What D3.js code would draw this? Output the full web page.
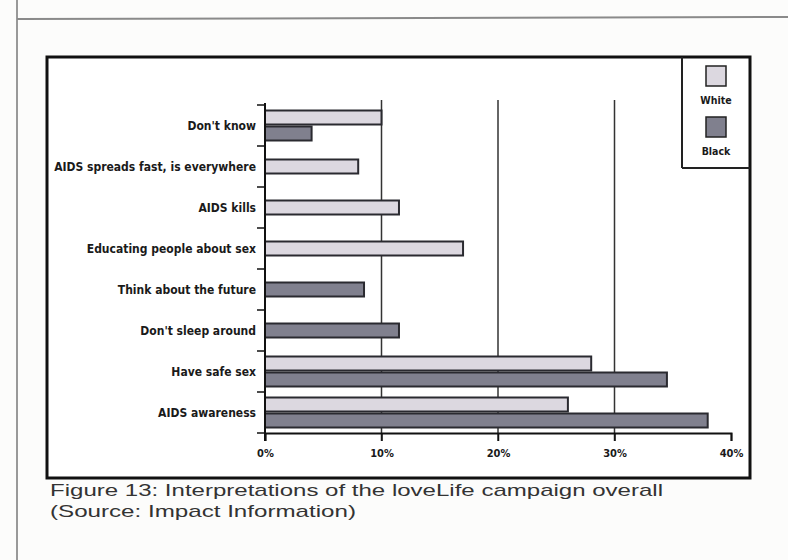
<!DOCTYPE html>
<html>
<head>
<meta charset="utf-8">
<script src="https://cdn.jsdelivr.net/npm/d3@7"></script>
<style>
  html, body { margin: 0; padding: 0; background: #fcfcfb; }
  svg { display: block; }
</style>
</head>
<body>
<div id="chart"></div>
<script>
// categories top -> bottom, values in percent (null = no bar)
const categories = ["Don't know", "AIDS spreads fast, is everywhere", "AIDS kills",
  "Educating people about sex", "Think about the future", "Don't sleep around",
  "Have safe sex", "AIDS awareness"];
const seriesNames = ["White", "Black"];
const whiteValues = [10, 8, 11.5, 17, null, null, 28, 26];
const blackValues = [4, null, null, null, 8.5, 11.5, 34.5, 38];
const xTicks = [0, 10, 20, 30, 40];
const caption = ["Figure 13: Interpretations of the loveLife campaign overall",
  "(Source: Impact Information)"];

const width = 788, height = 560;
const colors = { White: "#dcd8e0", Black: "#80808e" };
const labelFont = "'DejaVu Sans Condensed', 'Liberation Sans Narrow', sans-serif";

const svg = d3.select("#chart").append("svg")
  .attr("width", width).attr("height", height);

// page rules from the scanned page
svg.append("line").attr("x1", 17).attr("x2", 17).attr("y1", 0).attr("y2", height)
  .attr("stroke", "#999").attr("stroke-width", 2);
svg.append("line").attr("x1", 17).attr("x2", width).attr("y1", 19).attr("y2", 17)
  .attr("stroke", "#8a8a8a").attr("stroke-width", 2);

// chart frame
svg.append("rect").attr("x", 47).attr("y", 57).attr("width", 703).attr("height", 421)
  .attr("fill", "#fff").attr("stroke", "#111").attr("stroke-width", 3);

const x = d3.scaleLinear().domain([0, 40]).range([265, 731]);
const y = d3.scaleBand().domain(categories).range([105, 433]);

// gridlines
svg.append("g").selectAll("line")
  .data(xTicks.filter(t => t > 0 && t < 40))
  .join("line")
  .attr("x1", d => x(d)).attr("x2", d => x(d))
  .attr("y1", 100).attr("y2", 441)
  .attr("stroke", "#333").attr("stroke-width", 1.5);

// bars
const rows = categories.map((c, i) => ({
  cat: c,
  bars: [
    { s: "White", v: whiteValues[i] },
    { s: "Black", v: blackValues[i] }
  ].filter(b => b.v != null)
}));
const barH = 14, gap = 2;
const bars = [];
rows.forEach(r => {
  const total = r.bars.length * barH + (r.bars.length - 1) * gap;
  const y0 = y(r.cat) + y.bandwidth() / 2 - total / 2;
  r.bars.forEach((b, j) => bars.push({ ...b, y: y0 + j * (barH + gap) }));
});
svg.append("g").selectAll("rect")
  .data(bars)
  .join("rect")
  .attr("x", x(0))
  .attr("y", d => d.y)
  .attr("width", d => x(d.v) - x(0))
  .attr("height", barH)
  .attr("fill", d => colors[d.s])
  .attr("stroke", "#2a2a30")
  .attr("stroke-width", 2);

// y axis: boundary ticks on the left
const yAxisG = svg.append("g");
yAxisG.append("line").attr("x1", x(0)).attr("x2", x(0))
  .attr("y1", 103).attr("y2", 441).attr("stroke", "#111").attr("stroke-width", 2);
const bounds = categories.map(c => y(c)).concat([y.range()[1]]);
yAxisG.selectAll("line.tk").data(bounds).join("line").attr("class", "tk")
  .attr("x1", x(0) - 8).attr("x2", x(0))
  .attr("y1", d => d).attr("y2", d => d)
  .attr("stroke", "#111").attr("stroke-width", 1.5);
yAxisG.selectAll("text").data(categories).join("text")
  .attr("x", x(0) - 9)
  .attr("y", d => y(d) + y.bandwidth() / 2)
  .attr("dy", "0.35em")
  .attr("text-anchor", "end")
  .attr("font-family", labelFont)
  .attr("font-weight", "bold")
  .attr("font-size", 12)
  .attr("fill", "#1a1a1a")
  .text(d => d);

// x axis
const xAxis = d3.axisBottom(x).tickValues(xTicks).tickSize(8)
  .tickFormat(d => d + "%");
const xg = svg.append("g").attr("transform", "translate(0,433)").call(xAxis);
xg.select(".domain").attr("stroke", "#111").attr("stroke-width", 2);
xg.selectAll(".tick line").attr("stroke", "#111").attr("stroke-width", 1.5);
xg.selectAll(".tick text")
  .attr("y", 16)
  .attr("font-family", labelFont)
  .attr("font-weight", "bold")
  .attr("font-size", 11)
  .attr("fill", "#1a1a1a");

// legend box
const lg = svg.append("g");
lg.append("line").attr("x1", 682).attr("x2", 682).attr("y1", 57).attr("y2", 168)
  .attr("stroke", "#222").attr("stroke-width", 2);
lg.append("line").attr("x1", 682).attr("x2", 750).attr("y1", 168).attr("y2", 168)
  .attr("stroke", "#222").attr("stroke-width", 2);
const items = lg.selectAll("g").data(seriesNames).join("g")
  .attr("transform", (d, i) => `translate(716,${66 + i * 51})`);
items.append("rect").attr("x", -10).attr("y", 0).attr("width", 20).attr("height", 20)
  .attr("fill", d => colors[d]).attr("stroke", "#222").attr("stroke-width", 1.5);
items.append("text").attr("y", 38).attr("text-anchor", "middle")
  .attr("font-family", labelFont).attr("font-weight", "bold")
  .attr("font-size", 10.5).attr("fill", "#1a1a1a")
  .text(d => d);

// caption
svg.append("g").selectAll("text").data(caption).join("text")
  .attr("x", 50)
  .attr("y", (d, i) => 496 + i * 21)
  .attr("font-family", "'Liberation Sans', Arial, sans-serif")
  .attr("font-size", 17)
  .attr("fill", "#333")
  .attr("textLength", (d, i) => i === 0 ? 613 : 306)
  .attr("lengthAdjust", "spacingAndGlyphs")
  .text(d => d);
</script>
</body>
</html>
